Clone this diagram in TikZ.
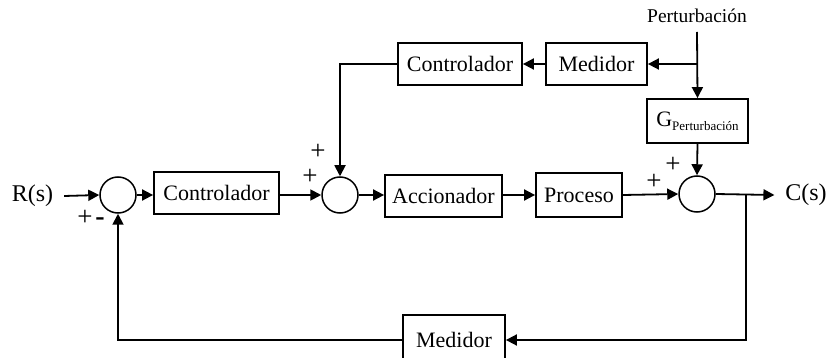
\documentclass[tikz,border=0pt]{standalone}
\usepackage{fontspec}
\setmainfont{Liberation Serif}
\usetikzlibrary{arrows.meta}
\begin{document}
\begin{tikzpicture}[x=1pt,y=-1pt,
  line width=1.8pt,
  blk/.style={draw, rectangle, inner sep=0pt, font=\fontsize{22}{26}\selectfont},
  sumc/.style={draw, circle, minimum size=36pt, inner sep=0pt, line width=1.5pt},
  sig/.style={inner sep=0pt, font=\fontsize{27}{30}\selectfont},
  lbl/.style={inner sep=0pt, font=\fontsize{24}{28}\selectfont},
  arr/.style={-{Triangle[length=11pt,width=11pt]}}
]
\useasboundingbox (0,0) rectangle (830,358);
\clip (0,0) rectangle (830,358);

% main path
\node[lbl] (R) at (32.5,196) {R(s)};
\node[sumc] (s1) at (118,195) {};
\node[blk, minimum width=125pt, minimum height=42pt] (c1) at (216.5,193) {Controlador};
\node[sumc] (s2) at (340,195) {};
\node[blk, minimum width=117pt, minimum height=42pt] (acc) at (443.5,196) {Accionador};
\node[blk, minimum width=86pt, minimum height=44pt] (proc) at (579,195) {Proceso};
\node[sumc] (s3) at (697,194) {};
\node[lbl] (C) at (806,195) {C(s)};

% bottom feedback
\node[blk, minimum width=102pt, minimum height=50pt] (medb) at (454,340) {Medidor};
\coordinate (br) at (746,194);
\coordinate (brd) at (746,340);
\coordinate (bl) at (118,340);

% top feedforward
\node[inner sep=0pt, font=\fontsize{19.5}{22}\selectfont] (pert) at (697,16) {Perturbación};
\coordinate (ptop) at (697,32);
\coordinate (pj) at (697,64);
\node[blk, minimum width=101pt, minimum height=42pt] (medt) at (596.5,64) {Medidor};
\node[blk, minimum width=124pt, minimum height=42pt] (ct) at (460,64) {Controlador};
\coordinate (ctl) at (340,64);
\node[blk, minimum width=101pt, minimum height=44pt] (G) at (697.5,121)
  {G\raisebox{-4pt}{\fontsize{13}{15}\selectfont Perturbación}};

% connectors
\draw[arr] ([xshift=10pt]R.east) -- (s1.west);
\draw[arr] (s1.east) -- (c1.west |- s1.east);
\draw[arr] (c1.east |- s2.west) -- (s2.west);
\draw[arr] (s2.east) -- (acc.west |- s2.east);
\draw[arr] (acc.east |- proc.west) -- (proc.west);
\draw[arr] (proc.east) -- (s3.west);
\draw[arr] (s3.east) -- ([xshift=-10pt]C.west);
\draw[arr] (br) -- (brd) -- (medb.east);
\draw[arr] (medb.west) -- (bl) -- (s1.south);
\draw[arr] (ptop) -- (G.north);
\draw[arr] (pj) -- (medt.east);
\draw[arr] (medt.west) -- (ct.east);
\draw[arr] (ct.west) -- (ctl) -- (s2.north);
\draw[arr] (G.south) -- (s3.north);

% signs
\node[sig] (p1) at (85,218) {+};
\node[inner sep=0pt, font=\fontsize{28}{30}\selectfont\bfseries] (m1) at (100,222) {-};
\node[sig] (p2) at (318,152) {+};
\node[sig] (p3) at (310,177) {+};
\node[sig] (p4) at (673,165) {+};
\node[sig] (p5) at (654,182) {+};
\end{tikzpicture}
\end{document}
